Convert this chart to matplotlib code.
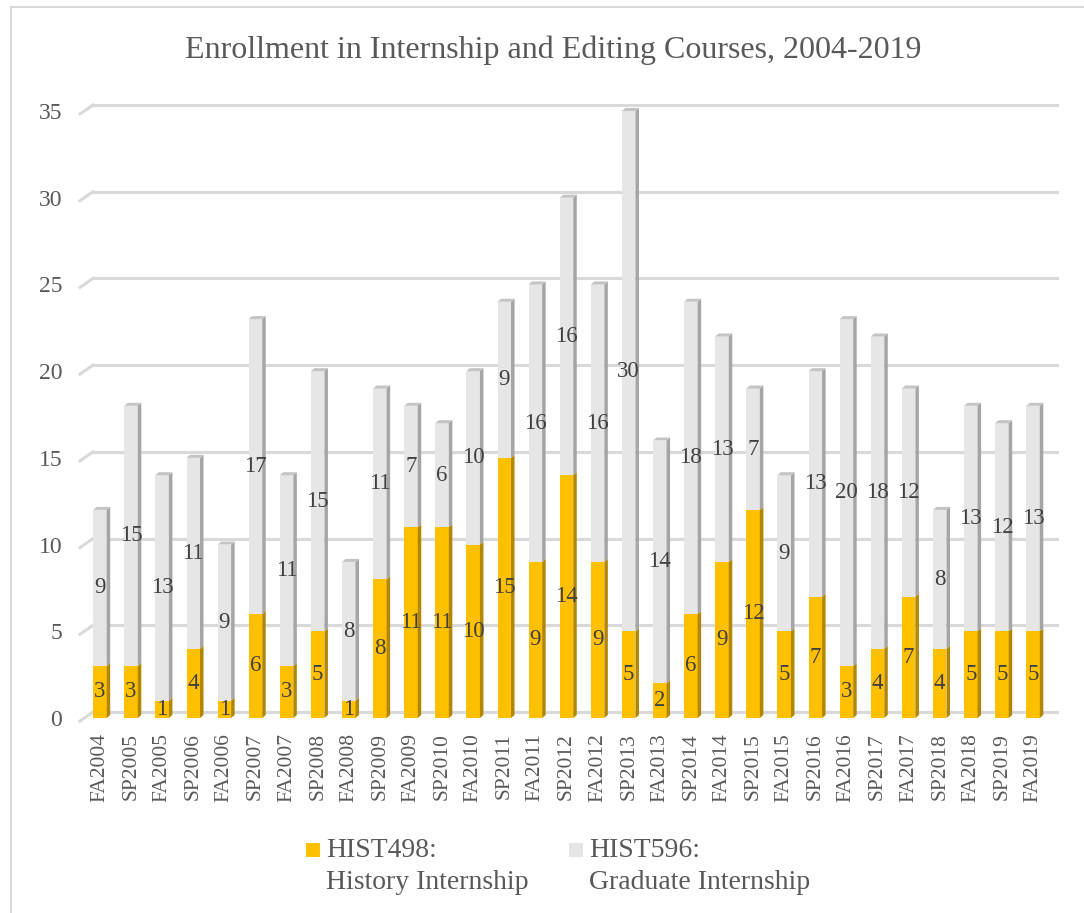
import matplotlib
matplotlib.use("Agg")
import matplotlib.pyplot as plt
from matplotlib.patches import Polygon, Rectangle
from matplotlib.lines import Line2D

plt.rcParams['font.family'] = ['Liberation Serif', 'DejaVu Serif']

terms = ['FA2004', 'SP2005', 'FA2005', 'SP2006', 'FA2006', 'SP2007', 'FA2007', 'SP2008',
         'FA2008', 'SP2009', 'FA2009', 'SP2010', 'FA2010', 'SP2011', 'FA2011', 'SP2012',
         'FA2012', 'SP2013', 'FA2013', 'SP2014', 'FA2014', 'SP2015', 'FA2015', 'SP2016',
         'FA2016', 'SP2017', 'FA2017', 'SP2018', 'FA2018', 'SP2019', 'FA2019']
hist498 = [3, 3, 1, 4, 1, 6, 3, 5, 1, 8, 11, 11, 10, 15, 9, 14, 9, 5, 2, 6, 9, 12, 5, 7, 3, 4, 7, 4, 5, 5, 5]
hist596 = [9, 15, 13, 11, 9, 17, 11, 15, 8, 11, 7, 6, 10, 9, 16, 16, 16, 30, 14, 18, 13, 7, 9, 13, 20, 18, 12, 8, 13, 12, 13]
yticks = [0, 5, 10, 15, 20, 25, 30, 35]

W, H = 1084, 913
fig = plt.figure(figsize=(W / 100, H / 100), dpi=100)
ax = fig.add_axes([84.4 / W, 1 - 718 / H, 964.2 / W, 607 / H])
ax.set_xlim(-0.5, len(terms) - 0.5)
ax.set_ylim(0, 35)

# pixel -> data helpers for the fake 3d depth
px_x = len(terms) / 964.2
px_y = 35 / 607.0
w = 13.5 * px_x
dx, dy = 3.5 * px_x, 3.0 * px_y

# back wall gridlines with slanted left edge
for v in yticks:
    gy = v + 6 * px_y
    ax.add_line(Line2D([-0.5 + 8.6 * px_x, len(terms) - 0.5 + 8.6 * px_x], [gy, gy],
                       color='#d9d9d9', lw=2.2, clip_on=False, zorder=1))
    ax.add_line(Line2D([-0.5 - 4.4 * px_x, -0.5 + 8.6 * px_x], [v - 3 * px_y, gy],
                       color='#d9d9d9', lw=2.2, clip_on=False, zorder=1))

x = list(range(len(terms)))
series = [(hist498, [0] * len(terms), '#ffc000', '#b38600'),
          (hist596, hist498, '#e7e6e6', '#a5a5a5')]

for vals, bottoms, front, side in series:
    ax.bar(x, vals, width=w, bottom=bottoms, color=front, zorder=3, clip_on=False)
    for xi, v, b in zip(x, vals, bottoms):
        r = xi + w / 2
        ax.add_patch(Polygon([(r, b), (r + dx, b + dy), (r + dx, b + v + dy), (r, b + v)],
                             closed=True, facecolor=side, edgecolor='none', zorder=3, clip_on=False))
        ax.text(xi, b + v / 2, str(v), ha='center', va='center', fontsize=16.5,
                color='#404040', zorder=5)

# top faces of the stacks
for xi, a, b in zip(x, hist498, hist596):
    t = a + b
    l, r = xi - w / 2, xi + w / 2
    ax.add_patch(Polygon([(l, t), (l + dx, t + dy), (r + dx, t + dy), (r, t)],
                         closed=True, facecolor='#c4c4c4', edgecolor='none', zorder=3, clip_on=False))

ax.set_xticks(x)
ax.set_xticklabels(terms, rotation=90, fontsize=15.5, color='#595959')
ax.set_yticks(yticks)
ax.set_yticklabels([str(v) for v in yticks], fontsize=17, color='#595959')
ax.tick_params(axis='x', length=0, pad=11)
ax.tick_params(axis='y', length=0, pad=16)
for s in ax.spines.values():
    s.set_visible(False)

fig.text(553 / W, 1 - 58 / H, 'Enrollment in Internship and Editing Courses, 2004-2019',
         ha='center', va='baseline', fontsize=23, color='#595959')

# legend
for sx, col, lines in [(306, '#ffc000', ('HIST498:', 'History Internship')),
                       (569, '#e7e6e6', ('HIST596:', 'Graduate Internship'))]:
    fig.add_artist(Rectangle((sx / W, 1 - 857 / H), 14 / W, 14 / H, transform=fig.transFigure,
                             facecolor=col, edgecolor='none'))
    fig.text((sx + 20) / W, 1 - 857 / H, lines[0], ha='left', va='baseline',
             fontsize=20, color='#595959')
    fig.text((sx + 20) / W, 1 - 889 / H, lines[1], ha='left', va='baseline',
             fontsize=20, color='#595959')

# chart border (top and left visible)
fig.add_artist(Line2D([11 / W, 1], [1 - 7 / H, 1 - 7 / H], transform=fig.transFigure,
                      color='#d9d9d9', lw=1.5))
fig.add_artist(Line2D([11 / W, 11 / W], [0, 1 - 7 / H], transform=fig.transFigure,
                      color='#d9d9d9', lw=1.5))

fig.savefig('out.png', dpi=100)
